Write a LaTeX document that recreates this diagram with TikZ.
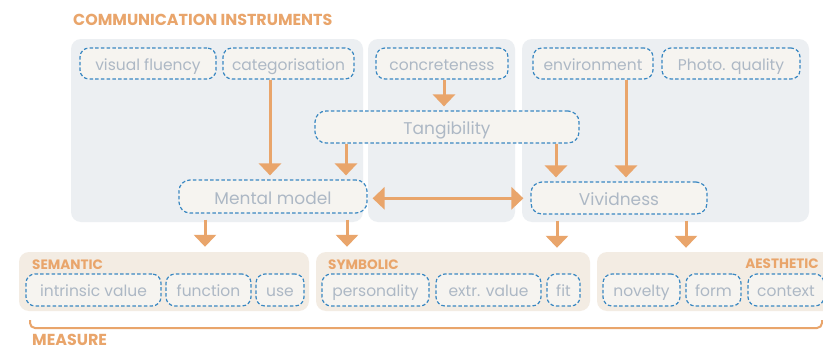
\documentclass[tikz,border=0pt]{standalone}
\usepackage{fontspec}
\setmainfont{Poppins}
\usetikzlibrary{arrows.meta,calc}
\definecolor{panelgray}{HTML}{ECEFF2}
\definecolor{panelbeige}{HTML}{F3ECE3}
\definecolor{boxfill}{HTML}{F6F4F0}
\definecolor{dashblue}{HTML}{3A88C2}
\definecolor{txtgray}{HTML}{ADB8C5}
\definecolor{orng}{HTML}{E9A56B}
\tikzset{
  panel/.style={fill=panelgray, rounded corners=10pt, inner sep=0pt, draw=none},
  bpanel/.style={fill=panelbeige, rounded corners=10pt, inner sep=0pt, draw=none},
  ibox/.style={draw=dashblue, fill=boxfill, dash pattern=on 3.5pt off 2.2pt, line width=1.2pt,
     rounded corners=9pt, inner sep=0pt, minimum height=31pt, text=txtgray,
     text height=13pt, text depth=0pt,
     font=\fontsize{15.5}{17}\selectfont},
  bigbox/.style={ibox, minimum height=32pt, text height=15pt, text depth=0pt,
     font=\fontsize{17}{19}\selectfont},
  arr/.style={draw=orng, line width=3pt, -{Triangle[width=22pt,length=12pt]}},
  darr/.style={draw=orng, line width=3pt, {Triangle[width=22pt,length=12pt]}-{Triangle[width=22pt,length=12pt]}},
  ttl/.style={text=orng, font=\bfseries\fontsize{15.9}{17}\selectfont, inner sep=0pt},
  lbl/.style={text=orng, font=\bfseries\fontsize{13.6}{15}\selectfont, inner sep=0pt}
}
\begin{document}
\begin{tikzpicture}[x=1pt,y=-1pt]
\clip (0,0) rectangle (823,348);
\fill[white] (0,0) rectangle (823,348);
% top panels
\node[panel, minimum width=292pt, minimum height=183pt] (p1) at (217,130.5) {};
\node[panel, minimum width=147pt, minimum height=183pt] (p2) at (441.5,130.5) {};
\node[panel, minimum width=287pt, minimum height=183pt] (p3) at (665.5,130.5) {};
% bottom panels
\node[bpanel, minimum width=290pt, minimum height=59pt] (sem) at (164,281.5) {};
\node[bpanel, minimum width=274pt, minimum height=59pt] (sym) at (453,281.5) {};
\node[bpanel, minimum width=240pt, minimum height=59pt] (aes) at (717,281.5) {};
% titles
\node[ttl, anchor=west] (title) at (73,19.5) {COMMUNICATION INSTRUMENTS};
\node[lbl, anchor=west] (semL) at (32,265) {SEMANTIC};
\node[lbl, anchor=west] (symL) at (328,265) {SYMBOLIC};
\node[lbl, anchor=east] (aesL) at (819,264) {AESTHETIC};
\node[ttl, anchor=west] (measL) at (32,339.5) {MEASURE};
% top boxes
\node[ibox, minimum width=136pt] (vf) at (148,63.5) {visual fluency};
\node[ibox, minimum width=131pt] (cat) at (288.5,63.5) {categorisation};
\node[ibox, minimum width=132pt] (conc) at (442,63.5) {concreteness};
\node[ibox, minimum width=120pt] (env) at (593,63.5) {environment};
\node[ibox, minimum width=138pt] (photo) at (731,63.5) {Photo. quality};
% middle boxes
\node[bigbox, minimum width=264pt, rounded corners=11pt] (tang) at (447,127) {Tangibility};
\node[bigbox, minimum width=188pt, minimum height=33pt, rounded corners=11pt] (mm) at (273,196.5) {Mental model};
\node[bigbox, minimum width=176pt, rounded corners=11pt] (viv) at (619,198) {Vividness};
% bottom boxes
\node[ibox, minimum width=135pt, minimum height=32pt] (iv) at (93.5,290) {intrinsic value};
\node[ibox, minimum width=85pt, minimum height=32pt] (func) at (208.5,290) {function};
\node[ibox, minimum width=48pt, minimum height=32pt] (use) at (280,290) {use};
\node[ibox, minimum width=107pt, minimum height=32pt] (pers) at (375.5,290) {personality};
\node[ibox, minimum width=105pt, minimum height=32pt] (extr) at (488.5,290) {extr. value};
\node[ibox, minimum width=33pt, minimum height=32pt] (fit) at (563.5,290) {fit};
\node[ibox, minimum width=77pt, minimum height=32pt] (nov) at (641.5,290) {novelty};
\node[ibox, minimum width=55pt, minimum height=32pt] (form) at (713.5,290) {form};
\node[ibox, minimum width=76pt, minimum height=32pt] (ctx) at (786,290) {context};
% column coordinates
\coordinate (c270) at (270,0);
\coordinate (c346) at (346,0);
\coordinate (c444) at (444,0);
\coordinate (c556) at (556,0);
\coordinate (c626) at (626,0);
\coordinate (c205) at (205,0);
\coordinate (c347) at (347,0);
\coordinate (c557) at (557,0);
\coordinate (c686) at (686,0);
\coordinate (dy) at (0,198.3);
% arrows
\draw[arr, shorten >=4pt] (c270 |- cat.south) -- (c270 |- mm.north);
\draw[arr, shorten >=4pt] (c346 |- tang.south) -- (c346 |- mm.north);
\draw[arr, shorten >=4pt] (c444 |- conc.south) -- (c444 |- tang.north);
\draw[arr, shorten >=4pt] (c556 |- tang.south) -- (c556 |- viv.north);
\draw[arr, shorten >=4pt] (c626 |- env.south) -- (c626 |- viv.north);
\draw[darr, shorten <=5pt, shorten >=7pt] (mm.east |- dy) -- (viv.west |- dy);
\draw[arr, shorten <=6pt, shorten >=5pt] (c205 |- mm.south) -- (c205 |- sem.north);
\draw[arr, shorten <=6pt, shorten >=5pt] (c347 |- mm.south) -- (c347 |- sym.north);
\draw[arr, shorten <=6pt, shorten >=4pt] (c557 |- viv.south) -- (c557 |- sym.north);
\draw[arr, shorten <=6pt, shorten >=4pt] (c686 |- viv.south) -- (c686 |- aes.north);
% measure bracket
\coordinate (brA) at (30,320);
\coordinate (brB) at (30,328);
\coordinate (brC) at (822,328);
\coordinate (brD) at (822,320);
\draw[orng, line width=2pt, rounded corners=5pt] (brA) -- (brB) -- (brC) -- (brD);
\end{tikzpicture}
\end{document}
